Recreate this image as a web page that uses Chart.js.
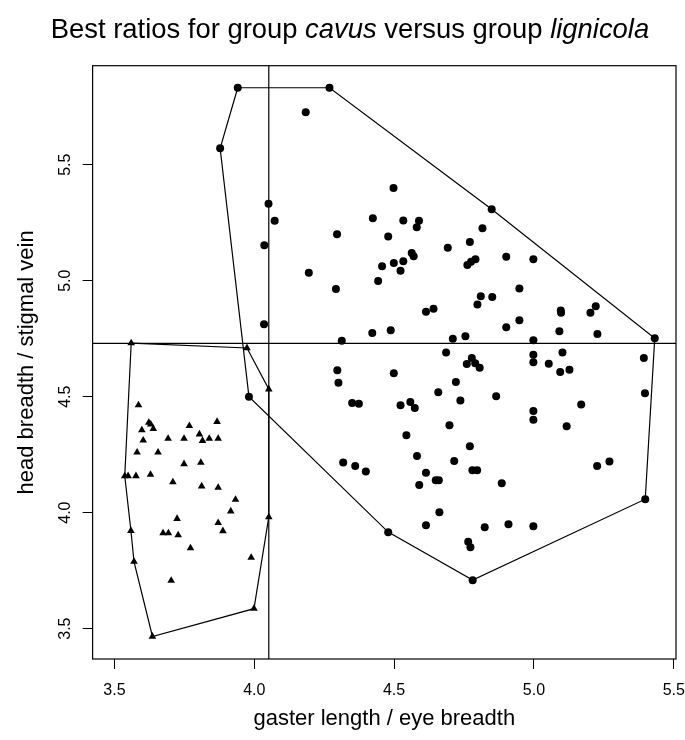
<!DOCTYPE html>
<html><head><meta charset="utf-8">
<script src="https://cdn.jsdelivr.net/npm/chart.js@4.4.1/dist/chart.umd.min.js"></script>
<style>
html,body{margin:0;padding:0;background:#fff;}
#wrap{position:relative;width:685px;height:740px;overflow:hidden;}
#title{position:absolute;left:0;top:15px;width:700px;text-align:center;font-family:"Liberation Sans",Arial,sans-serif;font-size:27.4px;line-height:27px;color:#000;white-space:nowrap;}
canvas{position:absolute;left:0;top:0;}
</style></head><body>
<div id="wrap"><canvas id="c" width="685" height="740"></canvas>
<div id="title">Best ratios for group <i>cavus</i> versus group <i>lignicola</i></div></div>
<script>
// ---- data ----
const cavusX = [3.560,3.974,4.052,3.586,3.623,3.630,3.598,3.639,3.768,3.867,3.603,3.692,3.749,3.804,3.815,3.839,3.871,3.581,3.656,3.749,3.809,3.537,3.549,3.577,3.629,3.709,3.812,3.871,3.933,3.916,4.052,3.724,3.871,3.888,3.559,3.674,3.693,3.728,3.772,3.570,3.989,3.703,3.999,3.636];
const cavusY = [4.731,4.710,4.532,4.464,4.388,4.381,4.356,4.362,4.374,4.392,4.312,4.319,4.319,4.338,4.310,4.319,4.319,4.260,4.260,4.210,4.216,4.158,4.158,4.158,4.164,4.132,4.114,4.108,4.056,4.006,3.981,3.974,3.956,3.921,3.922,3.912,3.912,3.903,3.847,3.789,3.806,3.707,3.586,3.466];
const cavusHull = [0,1,2,30,42,43,39,34,21,0];

const lignicolaX = [3.941,4.269,4.184,3.878,4.051,4.073,4.424,4.498,4.849,4.533,4.589,4.581,4.816,4.296,4.036,4.479,4.771,4.692,4.563,4.570,4.901,4.998,4.195,4.457,4.499,4.533,4.523,4.762,4.775,4.791,4.443,4.292,4.948,4.810,4.851,4.798,4.614,4.641,5.096,5.097,5.202,5.221,4.948,4.901,5.091,4.035,4.422,4.488,4.313,4.710,4.755,4.998,5.227,5.432,4.686,4.778,4.760,4.790,4.806,4.998,4.998,5.053,5.102,5.094,5.127,5.393,4.297,4.301,4.350,4.374,3.981,4.499,4.721,4.658,4.865,4.737,5.169,5.397,4.523,4.558,4.574,4.998,4.998,4.698,5.117,4.544,4.771,4.582,4.715,4.614,4.780,4.797,4.649,4.660,4.590,4.885,5.226,5.270,5.398,4.662,4.614,4.824,4.909,4.998,4.765,4.773,4.479,4.781,4.318,4.361,4.399];
const lignicolaY = [5.832,5.832,5.726,5.571,5.332,5.259,5.269,5.400,5.308,5.260,5.259,5.230,5.226,5.200,5.153,5.191,5.167,5.142,5.119,5.105,5.103,5.092,5.034,5.062,5.076,5.084,5.043,5.068,5.082,5.092,4.999,4.964,4.966,4.933,4.930,4.897,4.866,4.879,4.872,4.862,4.862,4.890,4.829,4.799,4.782,4.812,4.775,4.786,4.741,4.750,4.760,4.743,4.770,4.752,4.691,4.667,4.641,4.644,4.625,4.681,4.648,4.642,4.691,4.606,4.616,4.667,4.614,4.560,4.473,4.469,4.500,4.601,4.563,4.519,4.502,4.484,4.466,4.515,4.463,4.477,4.451,4.438,4.401,4.377,4.372,4.334,4.286,4.244,4.223,4.172,4.183,4.183,4.140,4.140,4.119,4.127,4.201,4.220,4.058,4.002,3.946,3.937,3.950,3.941,3.874,3.851,3.916,3.709,4.216,4.201,4.177];
const lignicolaHull = [0,1,8,53,98,107,106,70,3,0];

const xLimits = [3.422, 5.508];
const yLimits = [3.369, 5.927];
const xTicks = [3.5, 4.0, 4.5, 5.0, 5.5];
const xTickLabels = ["3.5", "4.0", "4.5", "5.0", "5.5"];
const yTicks = [3.5, 4.0, 4.5, 5.0, 5.5];
const yTickLabels = ["3.5", "4.0", "4.5", "5.0", "5.5"];
const splitX = 4.052;
const splitY = 4.730;
const xTitle = "gaster length / eye breadth";
const yTitle = "head breadth / stigmal vein";

// ---- helpers ----
const pts = (xs, ys) => xs.map((x, i) => ({x: x, y: ys[i]}));
const hull = (xs, ys, idx) => idx.map(i => ({x: xs[i], y: ys[i]}));
const FONT = '"Liberation Sans", Arial, Helvetica, sans-serif';
const lineDs = (label, data, w) => ({
  label, data, showLine: true, borderColor: '#000', borderWidth: w,
  pointRadius: 0, pointHoverRadius: 0, fill: false, tension: 0
});

const boxPlugin = {
  id: 'box',
  afterDatasetsDraw(chart) {
    const a = chart.chartArea, ctx = chart.ctx;
    ctx.save();
    ctx.strokeStyle = '#000';
    ctx.lineWidth = 1.2;
    ctx.strokeRect(a.left, a.top, a.right - a.left, a.bottom - a.top);
    ctx.restore();
  }
};

new Chart(document.getElementById('c'), {
  type: 'scatter',
  data: {
    datasets: [
      lineDs('lignicola hull', hull(lignicolaX, lignicolaY, lignicolaHull), 1.2),
      lineDs('cavus hull', hull(cavusX, cavusY, cavusHull), 1.2),
      lineDs('split x', [{x: splitX, y: yLimits[0]}, {x: splitX, y: yLimits[1]}], 1.2),
      lineDs('split y', [{x: xLimits[0], y: splitY}, {x: xLimits[1], y: splitY}], 1.2),
      {label: 'lignicola', data: pts(lignicolaX, lignicolaY), pointStyle: 'circle',
       pointRadius: 4, pointHoverRadius: 4, backgroundColor: '#000', borderWidth: 0, showLine: false},
      {label: 'cavus', data: pts(cavusX, cavusY), pointStyle: 'triangle',
       pointRadius: 4.4, pointHoverRadius: 4.4, backgroundColor: '#000', borderWidth: 0, showLine: false}
    ]
  },
  options: {
    responsive: false,
    animation: false,
    devicePixelRatio: 1,
    layout: {padding: {left: 0, right: 9, top: 65.7, bottom: 0}},
    plugins: {legend: {display: false}, tooltip: {enabled: false}, title: {display: false}},
    scales: {
      x: {
        type: 'linear', position: 'bottom', min: xLimits[0], max: xLimits[1],
        afterBuildTicks: s => { s.ticks = xTicks.map(v => ({value: v})); },
        afterFit: s => { s.height = 81; s.paddingLeft = 0; s.paddingRight = 0; },
        ticks: {callback: (v, i) => xTickLabels[i], font: {family: FONT, size: 16}, color: '#000',
                padding: 12, maxRotation: 0, minRotation: 0, autoSkip: false},
        grid: {display: true, drawOnChartArea: false, drawTicks: true, tickLength: 10, color: '#000', lineWidth: 1},
        border: {display: false},
        title: {display: true, text: xTitle, color: '#000', font: {family: FONT, size: 22},
                padding: {top: 0, bottom: 8}}
      },
      y: {
        type: 'linear', position: 'left', min: yLimits[0], max: yLimits[1],
        afterBuildTicks: s => { s.ticks = yTicks.map(v => ({value: v})); },
        afterFit: s => { s.width = 92.6; s.paddingTop = 0; s.paddingBottom = 0; },
        ticks: {callback: (v, i) => yTickLabels[i], font: {family: FONT, size: 16}, color: '#000',
                padding: 6, minRotation: 90, maxRotation: 90, crossAlign: 'center', autoSkip: false},
        grid: {display: true, drawOnChartArea: false, drawTicks: true, tickLength: 10, color: '#000', lineWidth: 1},
        border: {display: false},
        title: {display: true, text: yTitle, color: '#000', font: {family: FONT, size: 22},
                padding: {top: 14, bottom: 0}}
      }
    }
  },
  plugins: [boxPlugin]
});
</script>
</body></html>
